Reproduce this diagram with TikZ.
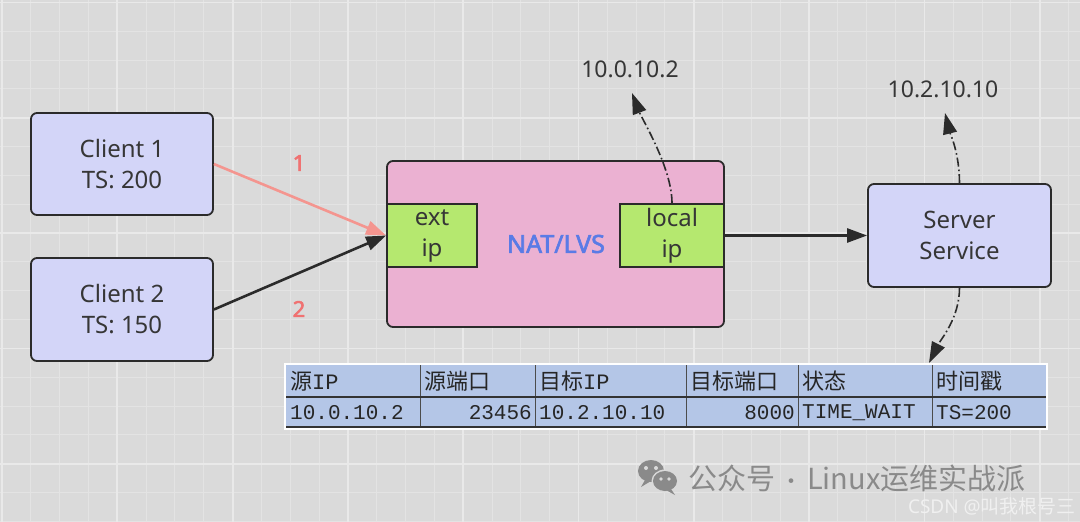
\documentclass[tikz,border=0pt]{standalone}
\usepackage{fontspec}
\setmainfont{Noto Sans}
\newfontfamily\boldsans{Noto Sans}[FakeBold=2.5]
\newfontfamily\cjk{Noto Sans CJK SC}
\newfontfamily\monof{Liberation Mono}
\usetikzlibrary{arrows.meta}
\definecolor{bg}{HTML}{DADADA}
\definecolor{gminor}{HTML}{E3E3E3}
\definecolor{gmajor}{HTML}{E9E9E9}
\definecolor{edge}{HTML}{2B2B2B}
\definecolor{lav}{HTML}{D3D5F8}
\definecolor{pinkf}{HTML}{EBB1D2}
\definecolor{greenf}{HTML}{B5E86F}
\definecolor{txt}{HTML}{363636}
\definecolor{natblue}{HTML}{5A7BE6}
\definecolor{salmon}{HTML}{F4958F}
\definecolor{numred}{HTML}{F07272}
\definecolor{tblue}{HTML}{B4C6E7}
\definecolor{wmgray}{HTML}{8A8A8A}
\tikzset{
  box/.style={draw=edge, line width=1.8pt, rounded corners=6pt, fill=lav, text=txt,
    align=center, inner sep=0pt, font=\fontsize{24}{31}\selectfont},
  natbox/.style={draw=edge, line width=1.8pt, rounded corners=6pt, fill=pinkf, inner sep=0pt},
  ipbox/.style={draw=edge, line width=1.8pt, fill=greenf, text=txt, align=center,
    inner sep=0pt, font=\fontsize{24}{31}\selectfont},
  conn/.style={line width=2.6pt, draw=edge, -{Triangle[length=20pt,width=14pt]}},
  connred/.style={line width=2.6pt, draw=salmon, -{Triangle[length=20pt,width=14pt]}},
  dd/.style={line width=1.6pt, draw=edge, dash pattern=on 9pt off 3pt on 1.6pt off 3pt,
    -{Triangle[length=21pt,width=14pt]}},
  iplabel/.style={text=txt, inner sep=0pt, font=\fontsize{23}{28}\selectfont},
  numlabel/.style={text=numred, inner sep=0pt, font=\boldsans\fontsize{22}{26}\selectfont},
  hcell/.style={text=black!85, inner sep=0pt, anchor=west, font=\fontsize{22}{26}\selectfont},
  dcell/.style={text=black!85, inner sep=0pt, font=\monof\fontsize{21}{26}\selectfont},
}
\begin{document}
\begin{tikzpicture}[x=1pt,y=-1pt]
\useasboundingbox (0,0) rectangle (1080,522);
\fill[bg] (0,0) rectangle (1080,522);
% grid
\foreach \i in {0,...,37} {
  \draw[gminor, line width=1pt] ({2+28.825*\i},0) -- ({2+28.825*\i},522);
}
\foreach \i in {0,...,18} {
  \draw[gminor, line width=1pt] (0,{2.5+28.825*\i}) -- (1080,{2.5+28.825*\i});
}
\foreach \i in {0,...,9} {
  \draw[gmajor, line width=1.8pt] ({2+115.3*\i},0) -- ({2+115.3*\i},522);
}
\foreach \i in {0,...,4} {
  \draw[gmajor, line width=1.8pt] (0,{2.5+115.3*\i}) -- (1080,{2.5+115.3*\i});
}

% nodes
\node[box, minimum width=182pt, minimum height=102pt] (c1) at (122,164) {Client 1\\TS: 200};
\node[box, minimum width=182pt, minimum height=103pt] (c2) at (122,309.5) {Client 2\\TS: 150};
\node[natbox, minimum width=337pt, minimum height=166pt] (nat) at (555.5,244) {};
\node[ipbox, minimum width=90pt, minimum height=63pt] (ext) at (432,235.5) {ext\\ip};
\node[ipbox, minimum width=104pt, minimum height=63pt] (lip) at (672,235.5) {local\\ip};
\node[text=natblue, inner sep=0pt, font=\boldsans\fontsize{25}{30}\selectfont] (natt) at (556,244) {NAT/LVS};
\node[box, minimum width=183pt, minimum height=103pt] (srv) at (959.5,235.5) {Server\\Service};

% connectors
\draw[connred] (c1.east) -- (ext.west);
\draw[conn] (c2.east) -- (ext.west);
\draw[conn] (lip.east) -- (srv.west);
\node[numlabel] (n1) at (299,163) {1};
\node[numlabel] (n2) at (299,309) {2};

% address labels and dash-dot arrows
\node[iplabel] (ipa) at (630,69) {10.0.10.2};
\coordinate (ta) at (632,93);
\draw[dd] (lip.north) .. controls +(0,-35) and +(10,26) .. (ta);
\node[iplabel] (ipb) at (943,89) {10.2.10.10};
\coordinate (tb) at (945,113);
\draw[dd] (srv.north) .. controls +(0,-30) and +(5,20) .. (tb);
\coordinate (tc) at (929,363);
\draw[dd] (srv.south) .. controls +(0,30) and +(12,-24) .. (tc);

% table
\fill[tblue] (286,365) rectangle (1046,427);
\foreach \xx in {420,535,686,798,932} {
  \draw[black!70, line width=1pt] (\xx,365) -- (\xx,427);
}
\draw[black!80, line width=1.2pt] (286,397) -- (1046,397);
\draw[black!80, line width=1.2pt] (286,427) -- (1046,427);
\draw[white, line width=2.4pt] (285,364) rectangle (1047,429);

\node[hcell] (h1) at (290,381) {{\cjk 源}{\monof IP}};
\node[hcell] (h2) at (424,381) {\cjk 源端口};
\node[hcell] (h3) at (539,381) {{\cjk 目标}{\monof IP}};
\node[hcell] (h4) at (690,381) {\cjk 目标端口};
\node[hcell] (h5) at (802,381) {\cjk 状态};
\node[hcell] (h6) at (936,381) {\cjk 时间戳};

\node[dcell, anchor=west] (d1) at (290,413) {10.0.10.2};
\node[dcell, anchor=east] (d2) at (532,413) {23456};
\node[dcell, anchor=west] (d3) at (539,413) {10.2.10.10};
\node[dcell, anchor=east] (d4) at (795,413) {8000};
\node[dcell, anchor=west] (d5) at (802,413) {TIME\_WAIT};
\node[dcell, anchor=west] (d6) at (936,413) {TS=200};

% watermark
\fill[wmgray] (651,471) ellipse [x radius=13, y radius=11];
\fill[wmgray] (645,480) -- (641,487) -- (651,481) -- cycle;
\fill[bg] (665,481) ellipse [x radius=13.5, y radius=11.5];
\fill[wmgray] (665,481) ellipse [x radius=12, y radius=10];
\fill[wmgray] (671,489) -- (675,495) -- (666,490) -- cycle;
\fill[bg] (646,468) circle (2); \fill[bg] (656,468) circle (2);
\fill[bg] (661,479) circle (1.8); \fill[bg] (669,479) circle (1.8);
\node[text=wmgray, inner sep=0pt, anchor=west, font=\cjk\fontsize{29}{32}\selectfont] (wm) at (688,478) {公众号{\fontsize{22}{24}\selectfont\ · }Linux运维实战派};
\node[text=white!94!black, inner sep=0pt, anchor=east, font=\fontsize{19}{22}\selectfont] (csdn) at (1076,506) {CSDN @{\cjk 叫我根号三}};
\end{tikzpicture}
\end{document}
